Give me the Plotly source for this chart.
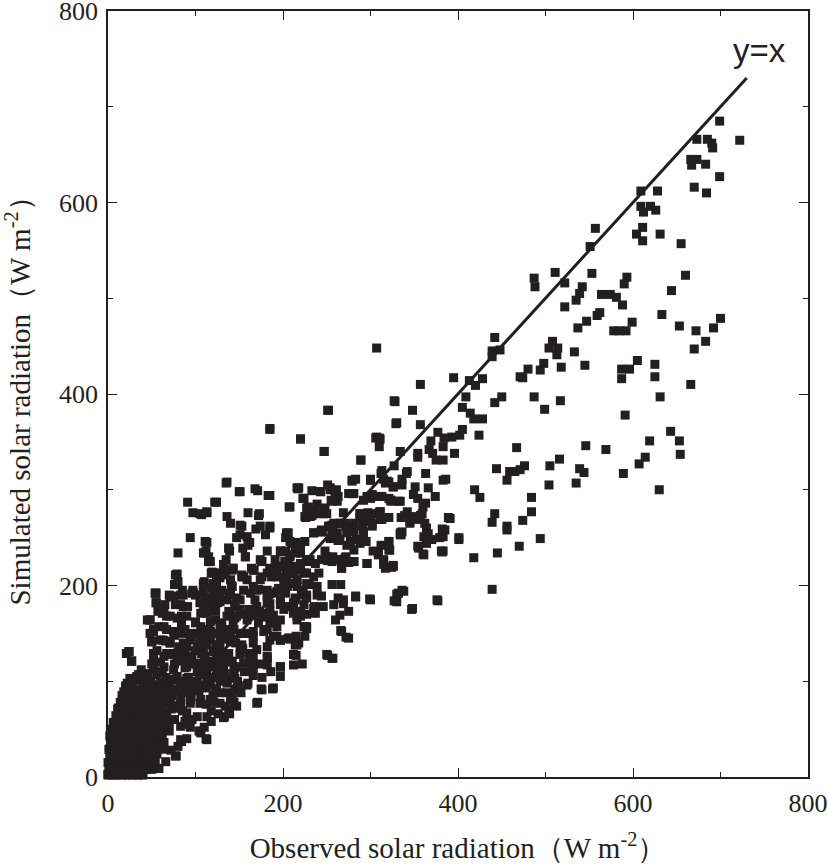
import plotly.graph_objects as go

# observed (x) / simulated (y) solar radiation, W m-2
# sparse points, upper right half
high_obs = [699, 722, 673, 685, 690, 691, 666, 673, 667, 683, 670, 684, 699, 609, 628, 609, 612, 620, 626,
            604, 611, 611, 631, 655, 557, 551, 644, 660, 511, 487, 488, 522, 522, 539, 542, 553, 535, 547,
            537, 559, 562, 564, 574, 581, 588, 593, 590, 578, 584, 592, 599, 633, 653, 672, 692, 700, 683,
            670, 666, 504, 508, 514, 513, 518, 533, 517, 498, 494, 499, 487, 480, 471, 474, 442, 439, 448,
            439, 450, 442, 545, 587, 596, 587, 591, 605, 625, 625, 631, 643, 653, 654, 619, 614, 607, 630,
            589, 569, 546, 539, 544, 535, 516, 505, 504, 467, 459, 465, 471, 476, 484, 484, 474, 470, 494,
            456, 444, 442, 439, 456, 456, 445, 419, 425, 418, 439, 401]
high_sim = [685, 665, 666, 666, 662, 657, 645, 645, 639, 640, 616, 610, 627, 612, 612, 596, 590, 596, 592,
            567, 574, 560, 567, 557, 573, 554, 508, 524, 527, 521, 512, 516, 491, 505, 512, 526, 498, 476,
            469, 482, 485, 504, 504, 501, 493, 522, 515, 466, 466, 466, 475, 483, 471, 466, 469, 479, 455,
            447, 410, 448, 455, 448, 441, 428, 444, 393, 432, 425, 384, 397, 426, 418, 417, 459, 445, 446,
            439, 397, 391, 430, 426, 426, 416, 378, 435, 431, 418, 397, 361, 351, 337, 351, 334, 327, 300,
            317, 342, 346, 322, 318, 307, 332, 325, 305, 344, 319, 319, 321, 325, 292, 277, 268, 241, 249,
            310, 322, 275, 266, 262, 258, 234, 300, 292, 229, 196, 250]

# points around the 1:1 line, 200-430
mid_obs = [409, 405, 413, 420, 414, 418, 424, 428, 428, 395, 405, 402, 393, 384, 383, 396, 386, 383, 389,
           382, 379, 377, 369, 371, 375, 367, 363, 357, 357, 348, 342, 354, 354, 354, 360, 357, 350, 345,
           362, 354, 360, 366, 381, 383, 377, 348, 327, 330, 338, 327, 330, 327, 341, 336, 336, 312, 315,
           321, 321, 324, 335, 339, 335, 307, 306, 310, 289, 283, 300, 307, 310, 321, 312, 303, 315, 324,
           300, 283, 297, 288, 281, 291, 272, 269, 275, 263, 259, 251, 247, 252, 220, 185, 218, 224, 233,
           239, 242, 233, 226, 245, 254, 256, 263, 248, 244, 251, 257, 263, 272, 275, 266, 263, 269, 275,
           266, 272, 251, 257, 222, 215, 197, 188, 175, 171, 208, 215, 227, 227, 236, 239, 230, 221, 212,
           206, 203, 203, 215, 191, 182, 182, 172, 182, 185, 179, 172, 160, 154, 145, 139, 130, 135, 139,
           147, 154, 160, 169, 172, 185, 171, 160, 151, 151, 136, 124, 113, 105, 97, 91, 94, 80, 112, 115,
           118, 124, 109, 100, 115, 97, 79, 76, 83, 91, 84, 70, 54, 57, 48, 45, 85, 100, 112, 109, 124,
           133, 130, 142, 136, 145, 133, 139, 106, 112, 94, 85, 118, 121, 124, 100, 82, 70, 57, 51, 45,
           33, 21, 27, 30, 18, 21, 12, 3, 6, 0]
mid_sim = [397, 386, 414, 409, 380, 374, 357, 374, 416, 417, 363, 357, 355, 354, 345, 338, 311, 331, 271,
           259, 250, 360, 351, 338, 331, 342, 317, 368, 410, 383, 319, 338, 334, 291, 282, 273, 271, 265,
           265, 241, 233, 254, 236, 236, 184, 176, 184, 191, 194, 393, 370, 325, 317, 311, 305, 317, 311,
           308, 291, 288, 253, 273, 271, 448, 354, 354, 331, 311, 311, 293, 276, 271, 242, 236, 222, 219,
           185, 188, 276, 271, 265, 262, 262, 276, 296, 293, 299, 305, 340, 383, 353, 363, 302, 291, 299,
           285, 276, 273, 271, 256, 262, 253, 247, 236, 227, 226, 230, 227, 230, 224, 201, 187, 181, 173,
           153, 146, 127, 124, 118, 127, 115, 92, 92, 78, 144, 147, 155, 170, 178, 190, 201, 190, 213,
           219, 236, 250, 245, 227, 213, 236, 196, 190, 181, 167, 161, 150, 170, 178, 190, 213, 227, 236,
           250, 239, 242, 259, 273, 294, 299, 276, 263, 298, 308, 287, 276, 275, 276, 287, 250, 234, 236,
           230, 213, 201, 200, 190, 187, 195, 212, 201, 190, 178, 161, 190, 192, 173, 150, 164, 150, 161,
           150, 135, 138, 150, 121, 121, 98, 92, 63, 66, 46, 40, 52, 69, 69, 78, 104, 95, 92, 89, 86, 81,
           98, 104, 129, 121, 86, 89, 69, 72, 46, 17, 3]

# band 50-220 (lower left of the cloud)
band_obs = [115, 132, 143, 119, 124, 134, 77, 80, 110, 120, 141, 153, 159, 167, 176, 189, 197, 203, 210,
            216, 54, 55, 71, 85, 98, 106, 117, 128, 125, 147, 163, 170, 182, 193, 205, 212, 83, 64, 48, 58,
            67, 79, 90, 106, 117, 140, 151, 163, 170, 182, 189, 201, 216, 52, 67, 83, 94, 106, 117, 128,
            144, 155, 166, 178, 185, 197, 208, 218, 50, 63, 71, 86, 102, 113, 126, 138, 151, 161, 170, 182,
            24, 27, 52, 67, 81, 94, 106, 119, 128, 144, 155, 166, 182, 197, 197, 189, 176, 170, 159, 149,
            144, 136, 125, 113, 102, 88, 75, 62, 52, 33, 20, 27, 41, 48, 60, 71, 85, 94, 106, 117, 128,
            142, 138, 132, 147, 106, 94, 83, 71, 60, 48, 37, 25, 14, 12, 22, 33, 45, 56, 67, 79, 90, 102,
            113, 83, 92, 106, 113, 83, 77, 58]
band_sim = [225, 221, 218, 214, 210, 211, 211, 204, 204, 202, 200, 211, 206, 216, 225, 215, 220, 209, 216,
            206, 192, 182, 188, 195, 192, 183, 187, 192, 182, 187, 192, 195, 188, 194, 199, 182, 180, 175,
            164, 157, 168, 166, 168, 171, 175, 171, 175, 169, 178, 171, 164, 175, 168, 152, 154, 152, 150,
            157, 152, 147, 154, 150, 147, 152, 143, 143, 145, 140, 141, 143, 140, 140, 136, 138, 135, 129,
            131, 129, 133, 126, 131, 121, 126, 129, 122, 126, 119, 121, 122, 115, 119, 115, 117, 115, 105,
            93, 91, 77, 96, 95, 107, 102, 108, 112, 110, 114, 112, 110, 112, 105, 95, 96, 100, 95, 98, 95,
            98, 91, 95, 96, 88, 84, 70, 62, 74, 81, 77, 84, 81, 84, 81, 84, 77, 70, 63, 63, 70, 70, 70, 67,
            72, 67, 63, 63, 53, 55, 48, 39, 39, 22, 9]

# band read from the 200-340 close-up
cen_obs = [328, 329, 251, 185, 220, 247, 307, 311, 310, 289, 313, 334, 135, 150, 168, 183, 217, 223, 243,
           254, 261, 255, 262, 279, 300, 317, 326, 281, 296, 302, 313, 323, 332, 122, 113, 107, 207, 227,
           235, 231, 241, 250, 173, 136, 140, 153, 174, 185, 180, 151, 159, 162, 113, 110, 115, 138, 157,
           175, 197, 206, 210, 218, 220, 208, 202, 210, 220, 227, 237, 235, 244, 252, 258, 265, 271, 256,
           262, 273, 281, 292, 288, 292, 303, 311, 313, 302, 284, 273, 281, 288, 295, 321, 322, 334, 250,
           256, 269, 281, 296, 309, 315, 326, 267, 132, 143, 155, 166, 176, 185, 193, 206, 227, 241, 121]
cen_sim = [392, 369, 383, 364, 353, 340, 355, 353, 345, 331, 320, 340, 307, 298, 301, 294, 301, 291, 298,
           300, 300, 289, 288, 310, 310, 307, 303, 296, 293, 295, 293, 289, 288, 287, 277, 274, 282, 281,
           279, 272, 275, 275, 275, 272, 265, 262, 262, 262, 253, 253, 251, 245, 245, 234, 225, 239, 230,
           225, 236, 255, 244, 241, 234, 232, 225, 220, 223, 225, 223, 255, 258, 262, 265, 265, 265, 255,
           249, 255, 256, 255, 275, 272, 275, 277, 269, 265, 248, 242, 237, 244, 246, 246, 237, 255, 230,
           225, 227, 225, 223, 232, 225, 221, 218, 222, 218, 209, 216, 209, 218, 211, 213, 213, 213, 213]

# band read from the 190-400 close-up
low_obs = [216, 223, 243, 254, 260, 256, 279, 279, 300, 300, 292, 311, 319, 326, 323, 334, 351, 349, 366,
           374, 383, 208, 229, 225, 235, 246, 248, 288, 300, 311, 311, 302, 292, 342, 349, 359, 363, 345,
           355, 391, 185, 204, 235, 243, 256, 267, 262, 273, 281, 292, 336, 334, 364, 361, 385, 383, 254,
           265, 277, 288, 294, 321, 401, 370, 364, 355, 361, 382, 321, 208, 214, 199, 220, 208, 250, 260,
           271, 281, 267, 296, 309, 315, 317, 326, 231, 193, 204, 216, 193, 204, 224, 235, 201, 216, 227,
           239, 256, 189, 203, 214, 227, 244, 269, 283, 299, 332, 336, 330, 376, 347, 197, 210, 224, 235,
           246, 258, 265, 189, 212, 220, 237, 260, 185, 193, 224, 225, 267, 275, 189, 197, 208, 214, 212,
           250, 256]
low_sim = [302, 291, 298, 302, 291, 288, 309, 296, 310, 291, 289, 293, 309, 303, 289, 288, 303, 295, 302,
           293, 310, 282, 282, 272, 275, 275, 281, 275, 274, 277, 269, 262, 267, 277, 272, 275, 286, 267,
           269, 270, 260, 255, 255, 256, 263, 265, 255, 258, 258, 256, 256, 253, 260, 251, 258, 251, 249,
           248, 246, 248, 246, 246, 248, 248, 244, 239, 232, 235, 237, 246, 239, 235, 234, 230, 230, 227,
           229, 225, 218, 223, 234, 227, 218, 220, 227, 218, 223, 218, 209, 213, 213, 209, 202, 199, 202,
           199, 201, 192, 192, 187, 190, 189, 185, 189, 186, 192, 195, 183, 185, 175, 180, 178, 180, 176,
           178, 180, 169, 169, 171, 168, 171, 164, 161, 157, 157, 147, 152, 145, 147, 143, 145, 138, 128,
           128, 124]

# dense cloud 20-150 (close-up of the reference)
dense_obs = [55, 75, 86, 96, 109, 121, 140, 55, 65, 77, 86, 105, 115, 128, 145, 48, 62, 71, 84, 100, 113,
             123, 136, 145, 52, 64, 75, 88, 102, 115, 128, 140, 50, 60, 71, 81, 94, 105, 117, 128, 144,
             24, 27, 52, 64, 75, 88, 96, 107, 121, 136, 52, 64, 79, 90, 102, 113, 124, 136, 145,
             25, 35, 46, 56, 67, 79, 90, 104, 113, 124, 136, 145, 22, 33, 45, 56, 67, 79, 90, 102, 113,
             124, 136, 147, 25, 37, 48, 60, 71, 83, 94, 105, 117, 128, 140]
dense_sim = [192, 189, 190, 192, 192, 190, 192, 182, 180, 180, 178, 182, 180, 183, 180, 164, 171, 168, 168,
             162, 171, 164, 168, 166, 154, 157, 152, 154, 150, 154, 157, 152, 142, 143, 140, 136, 143, 138,
             143, 138, 143, 131, 121, 129, 126, 129, 129, 126, 129, 131, 128, 117, 115, 121, 115, 117, 119,
             115, 121, 114, 103, 107, 103, 107, 102, 105, 103, 107, 102, 105, 102, 103, 93, 91, 93, 91, 93,
             91, 95, 91, 93, 91, 88, 91, 81, 77, 81, 77, 81, 77, 81, 77, 81, 77, 81]

# dense cloud 105-230 (second close-up)
shelf_obs = [111, 138, 157, 174, 197, 214, 220, 225, 109, 117, 132, 142, 164, 185, 197, 206, 220, 227, 121,
             128, 140, 153, 174, 187, 201, 216, 109, 119, 130, 142, 155, 166, 182, 195, 208, 223, 113, 124,
             136, 151, 168, 182, 197, 214, 227, 109, 123, 138, 147, 161, 172, 185, 204, 220, 117, 130, 143,
             159, 172, 187, 197, 216, 227, 111, 123, 136, 151, 166, 182, 193, 206, 216, 113, 126, 140, 153,
             166, 182, 197, 111, 124, 136, 151, 166, 182, 197, 212, 212, 117, 132, 147, 163]
shelf_sim = [246, 239, 230, 227, 236, 234, 242, 246, 234, 225, 220, 216, 218, 216, 220, 222, 216, 227, 213,
             208, 206, 209, 206, 209, 208, 206, 202, 197, 195, 199, 195, 199, 195, 197, 202, 195, 185, 187,
             185, 185, 185, 183, 185, 185, 187, 175, 173, 173, 168, 175, 171, 173, 178, 173, 162, 161, 162,
             164, 162, 161, 164, 164, 157, 152, 150, 154, 150, 152, 154, 147, 145, 138, 140, 138, 141, 138,
             140, 136, 143, 126, 128, 126, 128, 126, 124, 115, 128, 117, 115, 114, 115, 115]

# solid black core near the origin
core_obs = [0, 5, 10, 16, 22, 28, 34, 40,
            1, 7, 13, 19, 25, 31, 37, 44, 50,
            0, 6, 12, 18, 24, 30, 36, 42, 48, 54,
            2, 8, 14, 20, 26, 33, 39, 46, 52,
            1, 7, 13, 19, 25, 31, 38, 44, 50, 57, 63,
            3, 9, 15, 21, 27, 34, 40, 47, 53, 60,
            2, 8, 14, 21, 28, 35, 41, 48, 55, 62,
            4, 10, 17, 24, 31, 38, 45, 52, 58, 66,
            6, 13, 20, 27, 34, 41, 48, 56, 63, 70,
            9, 16, 23, 30, 37, 44, 51, 59, 67,
            11, 18, 25, 33, 40, 47, 55, 62, 72,
            14, 21, 29, 36, 44, 51, 58, 66,
            16, 24, 32, 40, 48, 56, 64, 73,
            20, 28, 36, 44, 52, 61, 70,
            22, 31, 40, 49, 58, 67, 76,
            60, 70, 78, 86, 95, 104, 112, 120, 128, 118, 108, 98, 88, 76, 66, 58, 82, 92, 102, 110, 124,
            134, 140, 130, 120, 110, 100, 90, 80, 70, 60, 50, 44, 38, 56, 66, 76, 96, 106, 116, 136, 146,
            154, 162, 172, 156, 148, 160, 166, 176, 186, 152, 144, 134, 126, 118, 110, 96, 88, 90, 70, 76,
            62, 54, 64, 72, 80, 56, 66, 84, 78, 58, 104, 92]
core_sim = [2, 2, 2, 2, 2, 2, 2, 2,
            8, 8, 8, 8, 8, 8, 8, 8, 8,
            15, 15, 15, 15, 15, 15, 15, 15, 15, 15,
            22, 22, 22, 22, 22, 22, 22, 22, 22,
            29, 29, 29, 29, 29, 29, 29, 29, 29, 29, 29,
            36, 36, 36, 36, 36, 36, 36, 36, 36, 36,
            43, 43, 43, 43, 43, 43, 43, 43, 43, 43,
            50, 50, 50, 50, 50, 50, 50, 50, 50, 50,
            57, 57, 57, 57, 57, 57, 57, 57, 57, 57,
            64, 64, 64, 64, 64, 64, 64, 64, 64,
            71, 71, 71, 71, 71, 71, 71, 71, 71,
            78, 78, 78, 78, 78, 78, 78, 78,
            85, 85, 85, 85, 85, 85, 85, 85,
            90, 94, 91, 95, 92, 89, 93,
            98, 101, 97, 100, 96, 99, 102,
            75, 80, 72, 88, 84, 90, 76, 86, 100, 104, 110, 118, 122, 118, 104, 96, 100, 104, 100, 96, 92,
            108, 120, 126, 132, 126, 132, 136, 130, 128, 120, 118, 108, 112, 132, 142, 148, 146, 142, 146,
            144, 140, 134, 122, 118, 110, 100, 98, 106, 104, 110, 88, 78, 74, 66, 58, 52, 60, 58, 40, 48,
            60, 62, 44, 36, 28, 32, 24, 16, 37, 22, 9, 48, 56]

ref_line = [0, 730]

obs = high_obs + mid_obs + band_obs + cen_obs + low_obs + dense_obs + shelf_obs + core_obs
sim = high_sim + mid_sim + band_sim + cen_sim + low_sim + dense_sim + shelf_sim + core_sim

ink = "#231f20"

fig = go.Figure()
fig.add_trace(go.Scatter(x=obs, y=sim, mode="markers", cliponaxis=False,
                         marker=dict(symbol="square", size=9, color=ink, line=dict(width=0))))
fig.add_trace(go.Scatter(x=ref_line, y=ref_line, mode="lines", line=dict(color=ink, width=3)))

fig.add_annotation(x=745, y=759, text="y=x", showarrow=False,
                   font=dict(family="Liberation Sans", size=33, color=ink))

axis_style = dict(range=[0, 800], dtick=200, ticks="inside", ticklen=9, tickwidth=1.3, tickcolor=ink,
                  showline=True, linewidth=1.5, linecolor=ink, mirror="ticks",
                  showgrid=False, zeroline=False, automargin=False, ticklabeloverflow="allow",
                  minor=dict(dtick=100, ticks="inside", ticklen=5, tickwidth=1.3, tickcolor=ink),
                  tickfont=dict(family="Liberation Serif", size=26, color=ink))

fig.update_xaxes(**axis_style, ticklabelstandoff=2,
                 title=dict(text="Observed solar radiation（W m<sup>-2</sup>）", standoff=24,
                            font=dict(family="Liberation Serif", size=29, color=ink)))
fig.update_yaxes(**axis_style, ticklabelstandoff=3,
                 title=dict(text="Simulated solar radiation（W m<sup>-2</sup>）", standoff=26,
                            font=dict(family="Liberation Serif", size=29, color=ink)))

fig.update_layout(width=828, height=864, showlegend=False,
                  margin=dict(l=108, r=20, t=11, b=87),
                  plot_bgcolor="white", paper_bgcolor="white")

# drop the default 8px body margin so the figure fills the window exactly
fig.write_html("out.html", config={"displayModeBar": False},
               post_script="document.body.style.margin = '0';")
